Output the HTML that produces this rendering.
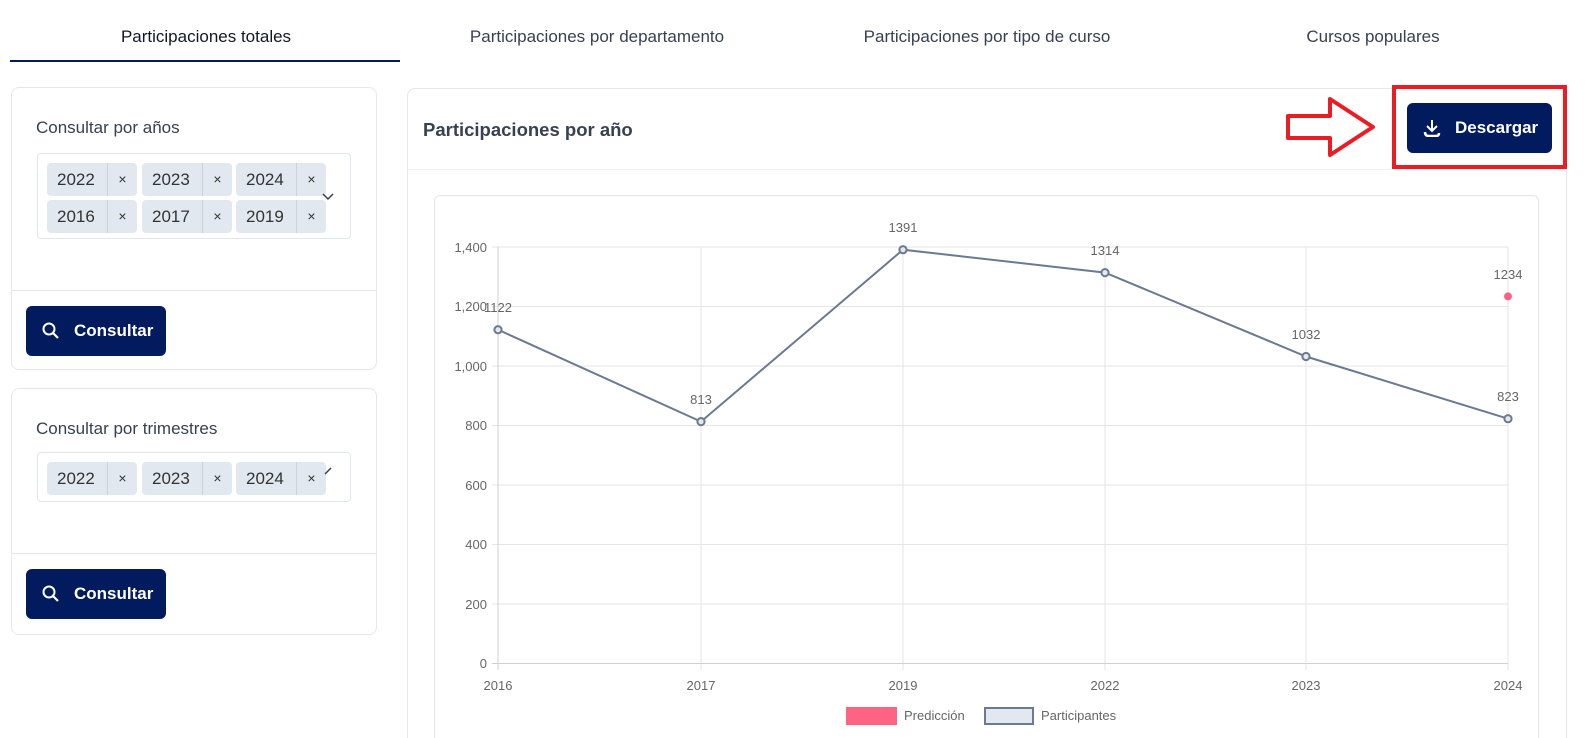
<!DOCTYPE html>
<html style="width:1587px;height:738px;overflow:hidden"><head><meta charset="utf-8"><style>
*{box-sizing:border-box;margin:0;padding:0}
body{width:1587px;height:738px;background:#fff;font-family:"Liberation Sans",sans-serif;position:relative;overflow:hidden;color:#1f2937}
.abs{position:absolute}
.tab{position:absolute;top:27px;font-size:17px;color:#374151;transform:translateX(-50%);white-space:nowrap}
.card{position:absolute;border:1px solid #e5e7eb;border-radius:8px;background:#fff}
.lbl{position:absolute;font-size:17px;color:#374151}
.sel{position:absolute;border:1px solid #e2e6ec;border-radius:4px}
.chip{position:absolute;height:33px;width:90px;background:#e2e8f0;border-radius:4px;font-size:17px;color:#333}
.chip span{position:absolute;left:10px;top:7px}
.chip i{position:absolute;left:60px;top:0;width:30px;height:33px;border-left:1px solid #cbd2dc;font-style:normal;text-align:center;line-height:33px;font-size:14px}
.btn{position:absolute;background:#021b5e;border-radius:6px;color:#fff;font-weight:bold;font-size:17px}
.div{position:absolute;height:1px;background:#e5e7eb}
</style></head><body>
<div class="tab" style="left:206px;color:#111827">Participaciones totales</div>
<div class="tab" style="left:597px">Participaciones por departamento</div>
<div class="tab" style="left:987px">Participaciones por tipo de curso</div>
<div class="tab" style="left:1373px">Cursos populares</div>
<div class="abs" style="left:10px;top:60px;width:390px;height:2px;background:#021b5e"></div>

<div class="card" style="left:11px;top:87px;width:366px;height:283px"></div>
<div class="lbl" style="left:36px;top:118px">Consultar por años</div>
<div class="sel" style="left:37px;top:153px;width:314px;height:86px"></div>
<div class="chip" style="left:47px;top:163px"><span>2022</span><i>×</i></div>
<div class="chip" style="left:142px;top:163px"><span>2023</span><i>×</i></div>
<div class="chip" style="left:236px;top:163px"><span>2024</span><i>×</i></div>
<div class="chip" style="left:47px;top:200px"><span>2016</span><i>×</i></div>
<div class="chip" style="left:142px;top:200px"><span>2017</span><i>×</i></div>
<div class="chip" style="left:236px;top:200px"><span>2019</span><i>×</i></div>
<svg class="abs" style="left:322px;top:191px" width="12" height="10"><path d="M1 3 L6 8 L11 3" stroke="#374151" stroke-width="1.5" fill="none"/></svg>
<div class="div" style="left:11px;top:290px;width:366px"></div>
<div class="btn" style="left:26px;top:306px;width:140px;height:50px"><svg class="abs" style="left:16px;top:16px" width="18" height="18"><circle cx="7" cy="7" r="5.5" stroke="#fff" stroke-width="2" fill="none"/><path d="M11 11 L16 16" stroke="#fff" stroke-width="2.2"/></svg><span class="abs" style="left:48px;top:15px">Consultar</span></div>

<div class="card" style="left:11px;top:388px;width:366px;height:247px"></div>
<div class="lbl" style="left:36px;top:419px">Consultar por trimestres</div>
<div class="sel" style="left:37px;top:452px;width:314px;height:50px"></div>
<div class="chip" style="left:47px;top:462px"><span>2022</span><i>×</i></div>
<div class="chip" style="left:142px;top:462px"><span>2023</span><i>×</i></div>
<div class="chip" style="left:236px;top:462px"><span>2024</span><i>×</i></div>
<svg class="abs" style="left:324px;top:466px" width="8" height="10"><path d="M1 8 L7 2" stroke="#374151" stroke-width="1.5"/></svg>
<div class="div" style="left:11px;top:553px;width:366px"></div>
<div class="btn" style="left:26px;top:569px;width:140px;height:50px"><svg class="abs" style="left:16px;top:16px" width="18" height="18"><circle cx="7" cy="7" r="5.5" stroke="#fff" stroke-width="2" fill="none"/><path d="M11 11 L16 16" stroke="#fff" stroke-width="2.2"/></svg><span class="abs" style="left:48px;top:15px">Consultar</span></div>

<div class="card" style="left:407px;top:88px;width:1160px;height:650px;border-bottom:none;border-radius:8px 8px 0 0"></div>
<div class="abs" style="left:423px;top:119px;font-size:18.5px;font-weight:bold;color:#374151">Participaciones por año</div>
<div class="div" style="left:408px;top:169px;width:1158px;background:#eef0f3"></div>
<div class="btn" style="left:1407px;top:103px;width:145px;height:50px"><svg class="abs" style="left:16px;top:16px" width="18" height="18"><path d="M9 1 V11 M4 7 L9 12 L14 7" stroke="#fff" stroke-width="2" fill="none"/><path d="M2 13 Q2 17 6 17 H13 Q16 17 16 14" stroke="#fff" stroke-width="2.5" fill="none"/></svg><span class="abs" style="left:48px;top:15px">Descargar</span></div>
<div class="abs" style="left:1392px;top:85px;width:175px;height:84px;border:4px solid #ec1c24"></div>
<svg class="abs" style="left:1285px;top:96px" width="92" height="64"><path d="M3 20 H45 V3 L88 31 L45 59 V42 H3 Z" stroke="#ec1c24" stroke-width="4" fill="#fff" stroke-linejoin="round"/></svg>

<div class="abs" style="left:434px;top:195px;width:1105px;height:543px;border:1px solid #e3e5ea;border-bottom:none;border-radius:6px 6px 0 0"></div>
<svg class="abs" style="left:0;top:0" width="1587" height="738" font-family="Liberation Sans, sans-serif" font-size="13" fill="#666">
<g stroke="#e5e5e5" stroke-width="1">
<line x1="492" y1="247" x2="1508" y2="247"/><line x1="492" y1="306.5" x2="1508" y2="306.5"/><line x1="492" y1="366" x2="1508" y2="366"/><line x1="492" y1="425.5" x2="1508" y2="425.5"/><line x1="492" y1="485" x2="1508" y2="485"/><line x1="492" y1="544.5" x2="1508" y2="544.5"/><line x1="492" y1="604" x2="1508" y2="604"/>
<line x1="701" y1="247" x2="701" y2="670"/><line x1="903" y1="247" x2="903" y2="670"/><line x1="1105" y1="247" x2="1105" y2="670"/><line x1="1306" y1="247" x2="1306" y2="670"/><line x1="1508" y1="247" x2="1508" y2="670"/>
</g>
<g stroke="#d0d0d0"><line x1="492" y1="663.5" x2="1508" y2="663.5"/><line x1="498" y1="247" x2="498" y2="670"/></g>
<g text-anchor="end"><text x="487" y="252">1,400</text><text x="487" y="311">1,200</text><text x="487" y="371">1,000</text><text x="487" y="430">800</text><text x="487" y="490">600</text><text x="487" y="549">400</text><text x="487" y="609">200</text><text x="487" y="668">0</text></g>
<g text-anchor="middle"><text x="498" y="690">2016</text><text x="701" y="690">2017</text><text x="903" y="690">2019</text><text x="1105" y="690">2022</text><text x="1306" y="690">2023</text><text x="1508" y="690">2024</text>
<text x="498" y="312">1122</text><text x="701" y="404">813</text><text x="903" y="232">1391</text><text x="1105" y="255">1314</text><text x="1306" y="339">1032</text><text x="1508" y="401">823</text><text x="1508" y="279">1234</text></g>
<polyline points="498,329.7 701,421.6 903,249.7 1105,272.6 1306,356.5 1508,418.7" fill="none" stroke="#6b7a90" stroke-width="2"/>
<g fill="#e2e8f0" stroke="#6b7a90" stroke-width="2"><circle cx="498" cy="329.7" r="3.6"/><circle cx="701" cy="421.6" r="3.6"/><circle cx="903" cy="249.7" r="3.6"/><circle cx="1105" cy="272.6" r="3.6"/><circle cx="1306" cy="356.5" r="3.6"/><circle cx="1508" cy="418.7" r="3.6"/></g>
<circle cx="1508" cy="296.4" r="4" fill="#ff6384"/>
<rect x="846" y="707" width="51" height="18" fill="#ff6384"/>
<text x="904" y="720">Predicción</text>
<rect x="985" y="708" width="48" height="16" fill="#e2e8f0" stroke="#6b7a90" stroke-width="2"/>
<text x="1041" y="720">Participantes</text>
</svg>
</body></html>
